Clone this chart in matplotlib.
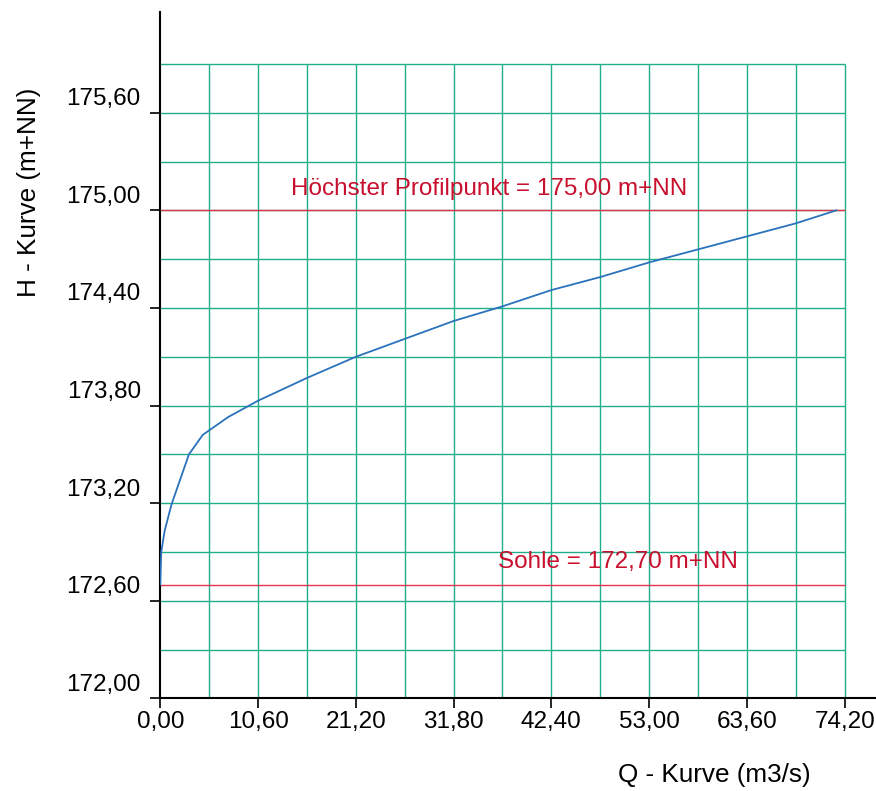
import numpy as np
import matplotlib.pyplot as plt
import matplotlib.transforms as mtransforms

plt.rcParams['font.family'] = ['Liberation Sans', 'DejaVu Sans']

# Abflusskurve (Q in m3/s, H in m+NN)
q = [0.0, 0.1, 0.47, 1.2, 3.1, 4.6, 7.37, 10.6, 15.9, 21.2, 26.5, 31.8,
     37.1, 42.4, 47.7, 53.0, 58.3, 63.6, 68.9, 73.3]
h = [172.70, 172.90, 173.03, 173.19, 173.50, 173.62, 173.73, 173.83, 173.97,
     174.10, 174.21, 174.32, 174.41, 174.51, 174.59, 174.68, 174.76, 174.84,
     174.92, 175.00]

x_ticks = [0.0, 10.6, 21.2, 31.8, 42.4, 53.0, 63.6, 74.2]
x_labels = ['0,00', '10,60', '21,20', '31,80', '42,40', '53,00', '63,60', '74,20']
y_ticks = [172.0, 172.6, 173.2, 173.8, 174.4, 175.0, 175.6]
y_labels = ['172,00', '172,60', '173,20', '173,80', '174,40', '175,00', '175,60']

sohle = 172.70
hoechster = 175.00
q_max = 74.2
h_grid_top = 175.9

fig = plt.figure(figsize=(8.76, 7.91), dpi=100)
ax = fig.add_axes([0.183, 0.117, 0.817, 0.868])

grid_col = '#1fae8a'
gx = np.arange(1, 15) * 5.3
gy = np.arange(1, 14) * 0.3 + 172.0
ax.vlines(gx, 172.0, h_grid_top, color=grid_col, lw=1.0, zorder=1)
ax.hlines(gy, 0, q_max, color=grid_col, lw=1.0, zorder=1)

ax.hlines([hoechster, sohle], 0, q_max, color='#e8334f', lw=1.0, zorder=2)
ax.plot(q, h, color='#2a72bb', lw=1.3, zorder=3)

ax.text(14.2, 175.13, 'Höchster Profilpunkt = 175,00 m+NN', color='#c8102e',
        fontsize=17.5, va='center', ha='left')
ax.text(36.6, 172.84, 'Sohle = 172,70 m+NN', color='#c8102e',
        fontsize=17.5, va='center', ha='left')

ax.set_xlim(0, 77.6)
ax.set_ylim(172.0, 176.22)
ax.set_xticks(x_ticks)
ax.set_xticklabels(x_labels)
ax.set_yticks(y_ticks)
ax.set_yticklabels(y_labels)
ax.tick_params(axis='both', labelsize=17.5, direction='out', length=7, width=1.2)
ax.tick_params(axis='x', pad=2)
ax.tick_params(axis='y', pad=7)

# y labels sit a bit above their ticks in the original
shift = mtransforms.ScaledTranslation(0, 0.16, fig.dpi_scale_trans)
for lab in ax.get_yticklabels():
    lab.set_transform(lab.get_transform() + shift)

for s in ['top', 'right']:
    ax.spines[s].set_visible(False)
for s in ['left', 'bottom']:
    ax.spines[s].set_linewidth(1.5)

fig.text(0.033, 0.757, 'H - Kurve (m+NN)', rotation=90, fontsize=18.8,
         ha='center', va='center')
fig.text(0.925, 0.02, 'Q - Kurve (m3/s)', fontsize=18.8, ha='right', va='center')

fig.savefig('out.png', dpi=100)
